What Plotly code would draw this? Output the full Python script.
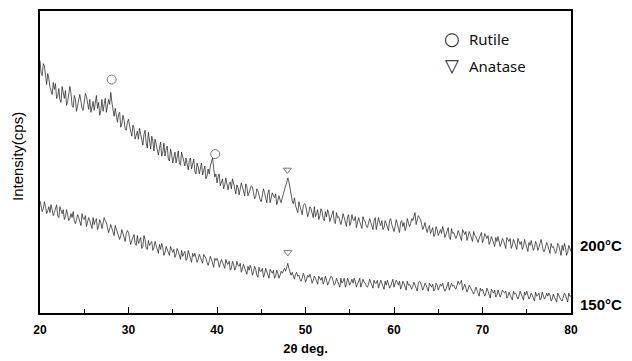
import plotly.graph_objects as go

# 2-theta scan grid (deg), 0.125 deg step
two_theta = [20 + 0.125 * i for i in range(481)]

# Intensity (arbitrary cps, offset traces); one row per degree
int_200C = [
    254, 241, 239, 251, 249, 236, 230, 241,
    236, 227, 222, 220, 232, 225, 231, 216,
    218, 226, 215, 212, 228, 219, 216, 224,
    209, 213, 220, 228, 221, 209, 207, 219,
    215, 203, 209, 214, 220, 213, 206, 204,
    211, 221, 218, 210, 205, 215, 202, 207,
    213, 204, 215, 219, 206, 212, 199, 204,
    215, 203, 210, 216, 202, 207, 215, 210,
    222, 212, 203, 198, 206, 199, 192, 200,
    202, 187, 191, 199, 194, 185, 184, 192,
    195, 188, 181, 178, 189, 186, 175, 180,
    183, 175, 186, 180, 172, 169, 180, 184,
    171, 166, 182, 174, 165, 178, 173, 163,
    175, 170, 163, 159, 166, 172, 158, 162,
    171, 158, 165, 168, 155, 153, 165, 160,
    151, 156, 162, 151, 158, 163, 150, 149,
    162, 157, 150, 148, 156, 151, 144, 154,
    156, 145, 151, 155, 142, 140, 151, 147,
    140, 146, 151, 139, 143, 148, 135, 138,
    145, 140, 148, 152, 156, 146, 137, 140,
    131, 137, 140, 128, 131, 135, 125, 129,
    136, 127, 124, 130, 132, 125, 135, 131,
    123, 120, 129, 126, 119, 124, 131, 127,
    122, 118, 130, 127, 118, 121, 124, 128,
    127, 120, 115, 117, 125, 123, 118, 114,
    112, 117, 125, 121, 115, 111, 121, 124,
    111, 115, 121, 118, 116, 120, 109, 113,
    118, 114, 111, 116, 121, 125, 128, 131,
    136, 132, 125, 117, 113, 110, 116, 108,
    104, 101, 112, 107, 102, 99, 108, 110,
    109, 104, 97, 101, 107, 105, 99, 96,
    107, 97, 100, 104, 94, 98, 105, 102,
    95, 93, 102, 97, 104, 100, 92, 95,
    99, 103, 92, 90, 101, 96, 97, 92,
    89, 94, 100, 96, 91, 87, 97, 99,
    88, 91, 99, 94, 93, 97, 86, 90,
    96, 92, 88, 85, 97, 93, 92, 87,
    86, 90, 95, 91, 87, 84, 93, 96,
    84, 89, 96, 91, 88, 93, 84, 86,
    93, 90, 85, 83, 93, 95, 89, 84,
    82, 87, 94, 90, 85, 81, 91, 93,
    87, 91, 83, 86, 95, 92, 87, 90,
    95, 93, 98, 101, 89, 94, 98, 96,
    94, 89, 84, 87, 91, 85, 81, 86,
    88, 80, 83, 86, 77, 79, 87, 84,
    78, 82, 84, 80, 87, 83, 76, 79,
    83, 86, 76, 74, 85, 80, 81, 77,
    75, 78, 83, 80, 75, 73, 84, 81,
    79, 82, 73, 77, 82, 79, 74, 72,
    82, 78, 77, 73, 71, 75, 79, 81,
    71, 74, 80, 77, 75, 78, 69, 72,
    77, 74, 69, 67, 76, 72, 77, 70,
    67, 70, 75, 73, 67, 65, 76, 73,
    72, 75, 65, 68, 74, 71, 67, 64,
    75, 71, 69, 72, 64, 67, 74, 70,
    64, 62, 71, 68, 73, 69, 63, 66,
    72, 69, 63, 66, 71, 74, 68, 62,
    62, 67, 71, 68, 62, 60, 70, 66,
    67, 64, 60, 63, 70, 68, 61, 58,
    68, 63, 70, 66, 58, 61, 68, 65,
    62,
]

int_150C = [
    113, 108, 102, 105, 112, 107, 100, 103,
    107, 101, 109, 104, 98, 101, 106, 109,
    98, 96, 107, 103, 100, 104, 94, 97,
    104, 99, 93, 95, 100, 96, 102, 93,
    90, 94, 99, 96, 91, 88, 100, 95,
    94, 98, 87, 91, 96, 93, 87, 85,
    96, 89, 93, 95, 84, 87, 94, 91,
    85, 90, 96, 93, 91, 86, 81, 85,
    89, 85, 80, 78, 88, 84, 81, 76,
    74, 78, 84, 80, 74, 72, 80, 83,
    81, 75, 69, 73, 77, 79, 70, 68,
    78, 70, 73, 76, 65, 67, 78, 74,
    65, 64, 73, 68, 70, 72, 63, 66,
    72, 67, 62, 60, 69, 64, 70, 66,
    58, 61, 67, 64, 60, 58, 67, 63,
    61, 64, 56, 59, 65, 62, 56, 54,
    63, 57, 60, 62, 53, 55, 63, 59,
    53, 51, 60, 57, 60, 55, 51, 54,
    59, 56, 52, 50, 59, 57, 55, 51,
    48, 52, 57, 54, 48, 46, 55, 53,
    55, 52, 46, 49, 54, 51, 47, 45,
    54, 50, 49, 52, 43, 45, 52, 49,
    43, 46, 52, 48, 47, 50, 41, 44,
    49, 45, 41, 39, 47, 43, 48, 45,
    38, 41, 47, 44, 38, 36, 46, 42,
    42, 45, 36, 39, 45, 42, 37, 35,
    44, 41, 40, 43, 35, 37, 43, 40,
    35, 38, 42, 40, 42, 45, 42, 47,
    50, 45, 41, 38, 41, 36, 34, 39,
    41, 37, 38, 34, 32, 35, 40, 37,
    31, 34, 38, 36, 39, 35, 30, 33,
    37, 35, 31, 29, 37, 34, 33, 36,
    29, 32, 37, 33, 28, 31, 35, 37,
    36, 33, 28, 30, 35, 32, 28, 26,
    35, 30, 32, 35, 26, 29, 35, 32,
    28, 31, 34, 30, 35, 32, 26, 29,
    33, 35, 26, 29, 34, 31, 30, 27,
    26, 29, 34, 31, 27, 25, 33, 30,
    30, 33, 25, 28, 33, 30, 26, 24,
    32, 28, 33, 30, 25, 27, 32, 34,
    26, 29, 33, 31, 28, 32, 24, 27,
    32, 30, 25, 23, 32, 28, 29, 26,
    24, 27, 31, 28, 24, 22, 30, 32,
    31, 27, 23, 26, 30, 28, 24, 22,
    30, 27, 26, 29, 22, 24, 30, 28,
    23, 26, 29, 27, 30, 25, 22, 24,
    29, 31, 23, 26, 30, 27, 28, 25,
    24, 28, 32, 29, 30, 33, 23, 26,
    29, 25, 21, 24, 28, 26, 24, 21,
    19, 22, 26, 23, 19, 17, 25, 22,
    24, 21, 17, 20, 25, 22, 17, 15,
    24, 21, 20, 23, 16, 18, 23, 20,
    16, 19, 23, 21, 20, 22, 15, 17,
    21, 18, 15, 13, 22, 19, 20, 16,
    14, 17, 22, 19, 15, 13, 21, 18,
    22, 19, 14, 16, 20, 18, 14, 12,
    21, 17, 18, 20, 13, 15, 21, 18,
    14, 16, 20, 17, 20, 18, 12, 14,
    19, 16, 13, 11, 20, 17, 16, 13,
    12, 15, 20, 18, 13, 11, 20, 17,
    17,
]

# Peak markers
rutile_x = [28.1, 39.8]
rutile_y = [235, 160]
anatase_x = [47.95, 48.0]
anatase_y = [144, 61]

series_labels = ["200\u00b0C", "150\u00b0C"]
series_label_y = [68, 9]
legend_labels = ["Rutile", "Anatase"]
legend_symbols = ["\u25cb", "\u25bd"]
legend_y = [276, 249]

fig = go.Figure()
for ys in (int_200C, int_150C):
    fig.add_trace(go.Scatter(x=two_theta, y=ys, mode="lines",
                             line=dict(color="#262626", width=0.75),
                             showlegend=False, hoverinfo="skip"))

fig.add_trace(go.Scatter(x=rutile_x, y=rutile_y, mode="markers",
                         marker=dict(symbol="circle-open", size=9,
                                     color="#777777", line=dict(width=1)),
                         showlegend=False))
fig.add_trace(go.Scatter(x=anatase_x, y=anatase_y, mode="markers",
                         marker=dict(symbol="triangle-down-open", size=7,
                                     color="#777777", line=dict(width=1)),
                         showlegend=False))

for txt, yv in zip(series_labels, series_label_y):
    fig.add_annotation(x=1.013, xref="paper", y=yv, yref="y", text=txt,
                       showarrow=False, xanchor="left", yanchor="middle",
                       font=dict(family="Liberation Sans, Arial", size=15,
                                 color="black", weight="bold"))

for sym, lab, yv in zip(legend_symbols, legend_labels, legend_y):
    fig.add_annotation(x=66.6, y=yv, text=sym, showarrow=False,
                       xanchor="center", yanchor="middle",
                       font=dict(family="DejaVu Sans", size=18, color="#222222"))
    fig.add_annotation(x=68.3, y=yv, text=lab, showarrow=False,
                       xanchor="left", yanchor="middle",
                       font=dict(family="Noto Sans, Open Sans", size=15, color="#111111"))

fig.add_annotation(x=-0.0433, xref="paper", y=157, yref="y",
                   text="Intensity(cps)", textangle=-90, showarrow=False,
                   xanchor="center", yanchor="middle",
                   font=dict(family="Liberation Sans, Arial", size=15, color="black"))

fig.update_layout(
    width=624, height=353,
    margin=dict(l=32, r=61, t=1, b=48),
    paper_bgcolor="white", plot_bgcolor="white",
    showlegend=False,
    xaxis=dict(range=[20, 80], tickvals=[20, 30, 40, 50, 60, 70, 80],
               ticks="inside", ticklen=6, tickwidth=1, tickcolor="black",
               ticklabelstandoff=5,
               minor=dict(tickvals=[25, 35, 45, 55, 65, 75], ticks="inside",
                          ticklen=4, tickwidth=1, tickcolor="black"),
               showline=True, linecolor="black", linewidth=1.5, mirror=True,
               showgrid=False, zeroline=False,
               tickfont=dict(family="Liberation Sans, Arial", size=12,
                             color="black", weight="bold"),
               title=dict(text="2\u03b8 deg.", standoff=8,
                          font=dict(family="Liberation Sans, Arial", size=13,
                                    color="black", weight="bold"))),
    yaxis=dict(range=[0, 304], showticklabels=False, ticks="",
               showline=True, linecolor="black", linewidth=1.5, mirror=True,
               showgrid=False, zeroline=False),
)

fig.write_html("out.html")
